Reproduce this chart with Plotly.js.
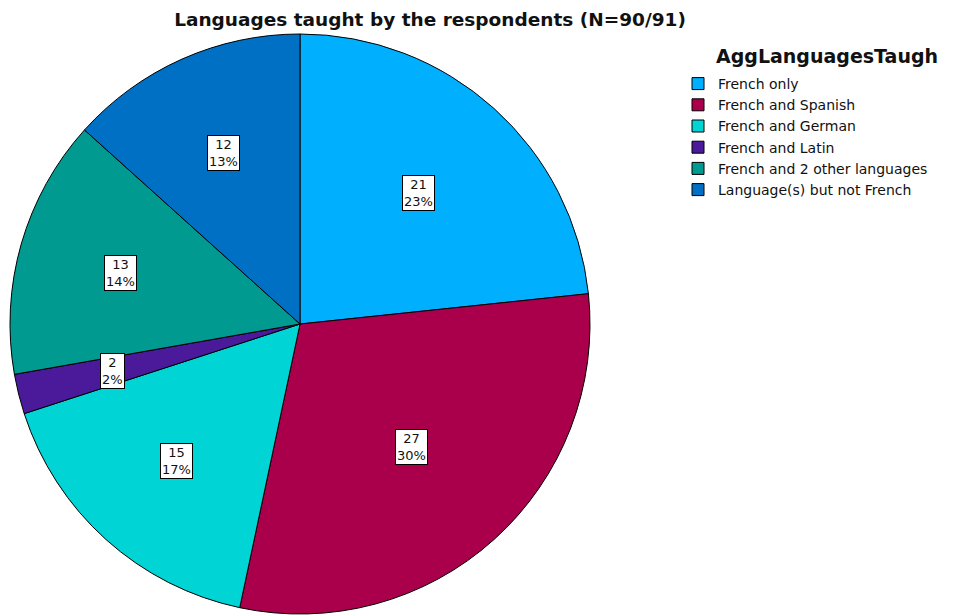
<!DOCTYPE html>
<html>
<head>
<meta charset="utf-8">
<script src="https://cdn.plot.ly/plotly-3.0.1.min.js"></script>
<style>html,body{margin:0;padding:0;background:#fff;}#chart{width:956px;height:616px;}</style>
</head>
<body>
<div id="chart"></div>
<script>
const categories = ["French only", "French and Spanish", "French and German", "French and Latin", "French and 2 other languages", "Language(s) but not French"];
const counts = [21, 27, 15, 2, 13, 12];
const sliceColors = ["#00B0FF", "#AA004B", "#00D4D4", "#4B1A9B", "#009A90", "#0070C4"];
const chartTitle = "Languages taught by the respondents (N=90/91)";
const legendTitle = "AggLanguagesTaugh";

const W = 956, H = 616;
const dom = {x: [10 / W, 590 / W], y: [1 - 614 / H, 1 - 34 / H]};
const cx = (dom.x[0] + dom.x[1]) / 2 * W;
const cyTop = (1 - (dom.y[0] + dom.y[1]) / 2) * H;
const R = Math.min((dom.x[1] - dom.x[0]) * W, (dom.y[1] - dom.y[0]) * H) / 2;

const total = counts.reduce((a, b) => a + b, 0);
const annotations = [];
let cum = 0;
counts.forEach((v, i) => {
  const alpha = v / total * 2 * Math.PI;
  const mid = (cum + v / 2) / total * 2 * Math.PI;
  cum += v;
  const d = R * 4 * Math.sin(alpha / 2) / (3 * alpha);
  const px = cx + d * Math.sin(mid);
  const py = cyTop - d * Math.cos(mid);
  annotations.push({
    x: px / W, y: 1 - py / H, xref: "paper", yref: "paper",
    xanchor: "center", yanchor: "middle",
    text: v + "<br>" + Math.round(v / total * 100) + "%",
    showarrow: false, align: "center",
    bgcolor: "#ffffff", bordercolor: "#000000", borderwidth: 1, borderpad: 1,
    font: {family: "DejaVu Sans", size: 13, color: "#111"}
  });
});
annotations.push({
  x: 714 / W, y: 1 - 43 / H, xref: "paper", yref: "paper", xanchor: "left", yanchor: "top",
  text: "<b>" + legendTitle + "</b>", showarrow: false,
  font: {family: "DejaVu Sans", size: 19, color: "#111"}
});

const data = [{
  type: "pie",
  labels: categories,
  values: counts,
  sort: false,
  direction: "clockwise",
  rotation: 0,
  textinfo: "none",
  hoverinfo: "label+value+percent",
  marker: {colors: sliceColors, line: {color: "#000000", width: 1}},
  domain: dom
}];

const layout = {
  width: W, height: H,
  margin: {l: 0, r: 0, t: 0, b: 0},
  paper_bgcolor: "#ffffff",
  title: {text: "<b>" + chartTitle + "</b>", x: 430 / W, xanchor: "center", y: 1 - 20 / H, yanchor: "middle",
          font: {family: "DejaVu Sans", size: 18.5, color: "#111"}},
  showlegend: true,
  legend: {x: 678 / W, xanchor: "left", y: 1 - 68 / H, yanchor: "top",
           font: {family: "DejaVu Sans", size: 14, color: "#111"},
           traceorder: "normal", tracegroupgap: 0, itemwidth: 30, bgcolor: "rgba(0,0,0,0)"},
  annotations: annotations
};

Plotly.newPlot("chart", data, layout, {displayModeBar: false, staticPlot: true});
</script>
</body>
</html>
